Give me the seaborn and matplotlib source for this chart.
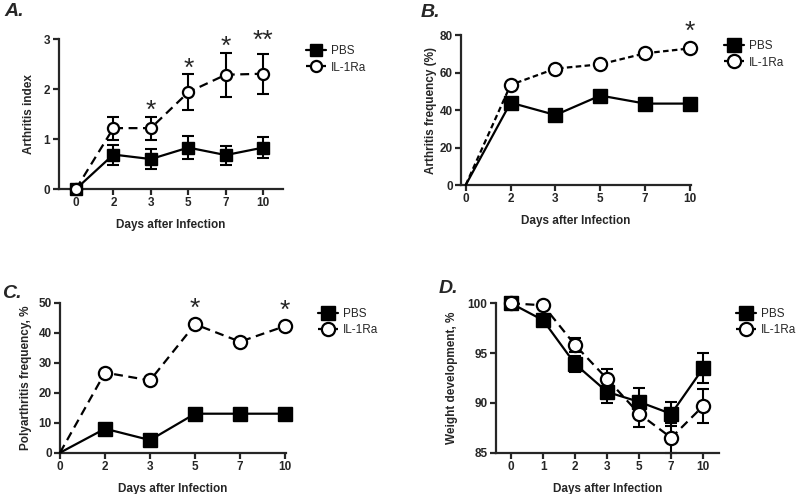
import numpy as np
import pandas as pd
import matplotlib
matplotlib.use('Agg')
import matplotlib.pyplot as plt
import seaborn as sns
from matplotlib.lines import Line2D

#days (categorical x axis)
days = ['0', '2', '3', '5', '7', '10']
days_w = ['0', '1', '2', '3', '5', '7', '10']

#A. arthritis index, mean +/- SEM
pbs_index = [0, 0.69, 0.60, 0.83, 0.68, 0.83]
pbs_index_err = [0, 0.20, 0.20, 0.23, 0.19, 0.21]
il_index = [0, 1.22, 1.22, 1.94, 2.29, 2.31]
il_index_err = [0, 0.23, 0.23, 0.36, 0.44, 0.40]
stars_index = ['', '', '*', '*', '*', '**']

#B. arthritis frequency (%)
pbs_freq = [0, 44.0, 37.4, 47.8, 43.5, 43.5]
il_freq = [0, 53.5, 62.2, 64.5, 70.4, 73.0]
stars_freq = ['', '', '', '', '', '*']

#C. polyarthritis frequency (%)
pbs_poly = [0, 8.0, 4.2, 13.0, 13.0, 13.0]
il_poly = [0, 26.7, 24.1, 42.8, 37.0, 42.2]
stars_poly = ['', '', '', '*', '', '*']

#D. weight development (%), mean +/- SEM
pbs_weight = [100, 98.3, 93.9, 91.1, 90.1, 88.9, 93.5]
pbs_weight_err = [0, 0.3, 0.8, 1.1, 1.4, 1.2, 1.5]
il_weight = [100, 99.8, 95.8, 92.4, 88.9, 86.5, 89.7]
il_weight_err = [0, 0.3, 0.7, 1.0, 1.3, 1.5, 1.7]

sns.set_style('ticks')
plt.rcParams['font.family'] = ['Liberation Sans', 'DejaVu Sans']

W, H = 799, 494
fig = plt.figure(figsize=(W / 100, H / 100), dpi=100)


def px_axes(l, t, r, b):
    return fig.add_axes([l / W, 1 - b / H, (r - l) / W, (b - t) / H])


def draw_panel(ax, labels, pbs, il, pbs_err=None, il_err=None, ms=9.5, dash=(4, 2.5), skip_zero=False):
    x = np.arange(len(labels))
    every = list(range(1, len(x))) if skip_zero else list(range(len(x)))
    if pbs_err is not None:
        ax.errorbar(x, pbs, yerr=pbs_err, fmt='none', ecolor='black', elinewidth=1.5,
                    capsize=4.3, capthick=1.5, zorder=2, clip_on=False)
    if il_err is not None:
        ax.errorbar(x, il, yerr=il_err, fmt='none', ecolor='black', elinewidth=1.5,
                    capsize=4.3, capthick=1.5, zorder=2, clip_on=False)
    sns.lineplot(data=pd.DataFrame({'x': x, 'y': pbs}), x='x', y='y', ax=ax, color='black',
                 linewidth=1.6, marker='s', markersize=ms, markerfacecolor='black',
                 markeredgecolor='black', markeredgewidth=1, markevery=every,
                 clip_on=False, zorder=3, legend=False)
    sns.lineplot(data=pd.DataFrame({'x': x, 'y': il}), x='x', y='y', ax=ax, color='black',
                 linewidth=1.6, linestyle=(0, dash), marker='o', markersize=ms,
                 markerfacecolor='white', markeredgecolor='black', markeredgewidth=1.6,
                 markevery=every, clip_on=False, zorder=4, legend=False)
    ax.set_xticks(x)
    ax.set_xticklabels(labels)
    sns.despine(ax=ax)
    for s in ['left', 'bottom']:
        ax.spines[s].set_linewidth(1.6)
    ax.tick_params(width=1.6, length=4, labelsize=8.5, pad=2)
    for t in ax.get_xticklabels() + ax.get_yticklabels():
        t.set_fontweight('bold')


def add_stars(ax, tops, stars, off):
    for i, (top, s) in enumerate(zip(tops, stars)):
        if s:
            # double stars sit a bit higher in the original
            ax.annotate(s, xy=(i, top), xytext=(0, off + 5 * (len(s) - 1)), textcoords='offset points',
                        ha='center', va='center', fontsize=19, annotation_clip=False)


def add_legend(ax, dash, ms, fx, fy):
    handles = [
        Line2D([], [], color='black', linewidth=1.6, marker='s', markersize=ms,
               markerfacecolor='black', markeredgecolor='black'),
        Line2D([], [], color='black', linewidth=1.6, linestyle=(0, dash), marker='o', markersize=ms,
               markerfacecolor='white', markeredgecolor='black', markeredgewidth=1.6),
    ]
    ax.legend(handles, ['PBS', 'IL-1Ra'], loc='center left', bbox_to_anchor=(fx / W, 1 - fy / H),
              bbox_transform=fig.transFigure, frameon=False, fontsize=8.5, handlelength=1.7,
              handletextpad=0.4, borderpad=0, borderaxespad=0, labelspacing=0.35, numpoints=1)


def labels(ax, xlab, ylab, ydx, ax_h, ax_w):
    ax.set_xlabel(xlab, fontsize=8.5, fontweight='bold', va='top')
    ax.set_ylabel(ylab, fontsize=8.5, fontweight='bold')
    ax.xaxis.set_label_coords(0.5, -30 / ax_h)
    ax.yaxis.set_label_coords(ydx / ax_w, 0.5)


#A
axA = px_axes(58.7, 39.3, 282.7, 189)
draw_panel(axA, days, pbs_index, il_index, pbs_index_err, il_index_err, ms=8, dash=(4, 2.5))
axA.set_xlim(-0.46, 5.52)
axA.set_ylim(0, 3)
axA.set_yticks([0, 1, 2, 3])
add_stars(axA, np.array(il_index) + np.array(il_index_err), stars_index, 4)
add_legend(axA, (4, 2.5), 8, 306, 59.5)
labels(axA, 'Days after Infection', 'Arthritis index', -24, 149.7, 224)

#B
axB = px_axes(461, 35.3, 691, 185)
draw_panel(axB, days, pbs_freq, il_freq, ms=9.5, dash=(2.5, 1.5), skip_zero=True)
axB.set_xlim(-0.105, 5.02)
axB.set_ylim(0, 80)
axB.set_yticks([0, 20, 40, 60, 80])
add_stars(axB, il_freq, stars_freq, 12)
add_legend(axB, (2.5, 1.5), 9.5, 724, 54.5)
labels(axB, 'Days after Infection', 'Arthritis frequency (%)', -24, 149.7, 230)

#C
axC = px_axes(60, 302.7, 286, 452.7)
draw_panel(axC, days, pbs_poly, il_poly, ms=9.5, dash=(4, 2.5), skip_zero=True)
axC.set_xlim(0, 5.02)
axC.set_ylim(0, 50)
axC.set_yticks([0, 10, 20, 30, 40, 50])
add_stars(axC, il_poly, stars_poly, 11)
add_legend(axC, (4, 2.5), 9.5, 318, 322)
labels(axC, 'Days after Infection', 'Polyarthritis frequency, %', -28, 150, 226)

#D
axD = px_axes(495.7, 303.3, 719.3, 452.7)
draw_panel(axD, days_w, pbs_weight, il_weight, pbs_weight_err, il_weight_err, ms=9.5, dash=(4, 2.5))
axD.set_xlim(-0.48, 6.5)
axD.set_ylim(85, 100)
axD.set_yticks([85, 90, 95, 100])
add_legend(axD, (4, 2.5), 9.5, 736, 322)
labels(axD, 'Days after Infection', 'Weight development, %', -37.7, 149.4, 223.6)

#panel letters
for letter, (lx, ly) in zip(['A.', 'B.', 'C.', 'D.'], [(4, 11), (421, 12.5), (2, 294), (439, 288.5)]):
    fig.text(lx / W, 1 - ly / H, letter, fontsize=14, fontweight='bold', fontstyle='italic',
             ha='left', va='center')

plt.savefig('out.png', dpi=100)
